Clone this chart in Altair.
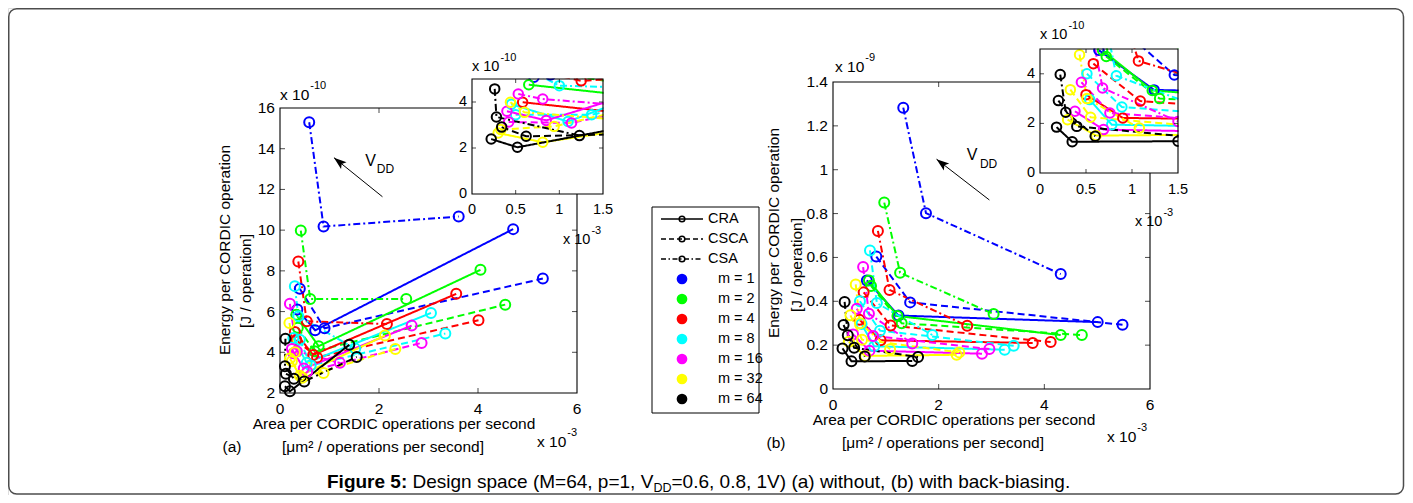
import altair as alt
import pandas as pd

FONT = "Liberation Sans"
ARCHS = ["CRA", "CSCA", "CSA"]
DASHES = [[1, 0], [7, 4], [7, 3, 2, 3]]
LEG_DASHES = [[1, 0], [5, 3], [5, 2.5, 1.5, 2.5]]
M_VALUES = [1, 2, 4, 8, 16, 32, 64]
M_COLORS = ["#0000ff", "#00ff00", "#ff0000", "#00ffff", "#ff00ff", "#ffff00", "#000000"]
LEG_LABELS = ["CRA", "CSCA", "CSA", "m = 1", "m = 2", "m = 4", "m = 8", "m = 16", "m = 32", "m = 64"]

# tick values and labels
A_XTICKS = [0, 2, 4, 6]
A_YTICKS = [2, 4, 6, 8, 10, 12, 14, 16]
AI_XTICKS = [0, 0.5, 1, 1.5]
AI_YTICKS = [0, 2, 4]
B_XTICKS = [0, 2, 4, 6]
B_YTICKS = [0, 0.2, 0.4, 0.6, 0.8, 1.0, 1.2, 1.4]
BI_XTICKS = [0, 0.5, 1, 1.5]
BI_YTICKS = [0, 0.2, 0.4]
BI_YLABELS = ["0", "2", "4"]

# Each list: CRA(VDD 1.0, 0.8, 0.6), CSCA(...), CSA(...)
# ---- panel (a), main plot: area [x 1e-3], energy [x 1e-10]
A_X_M1 = [0.35, 0.71, 4.71, 0.40, 0.90, 5.31, 0.59, 0.88, 3.61]
A_Y_M1 = [6.10, 5.08, 10.05, 7.12, 5.18, 7.62, 15.30, 10.18, 10.67]
A_X_M2 = [0.33, 0.78, 4.05, 0.36, 0.70, 4.55, 0.42, 0.61, 2.55]
A_Y_M2 = [5.85, 4.30, 8.05, 5.20, 4.05, 6.34, 9.98, 6.62, 6.62]
A_X_M4 = [0.30, 0.67, 3.56, 0.33, 0.75, 4.01, 0.37, 0.54, 2.16]
A_Y_M4 = [5.00, 3.87, 6.87, 4.60, 3.75, 5.57, 8.46, 5.52, 5.39]
A_X_M8 = [0.27, 0.54, 3.05, 0.40, 0.62, 3.34, 0.30, 0.37, 1.52]
A_Y_M8 = [4.70, 3.48, 5.93, 4.62, 3.35, 4.92, 7.25, 5.77, 4.18]
A_X_M16 = [0.24, 0.48, 2.66, 0.27, 0.55, 2.86, 0.20, 0.34, 1.21]
A_Y_M16 = [4.16, 3.20, 5.31, 3.95, 3.05, 4.46, 6.38, 4.05, 3.48]
A_X_M32 = [0.20, 0.40, 2.12, 0.24, 0.45, 2.33, 0.19, 0.30, 0.88]
A_Y_M32 = [3.70, 2.85, 4.82, 3.56, 2.75, 4.16, 5.44, 4.00, 2.98]
A_X_M64 = [0.10, 0.20, 1.40, 0.12, 0.49, 1.55, 0.11, 0.10, 0.28]
A_Y_M64 = [2.33, 2.08, 4.37, 2.94, 2.57, 3.77, 4.66, 3.31, 2.70]

# ---- panel (a), inset (as drawn in the zoomed inset)
AI_X_M1 = [0.35, 0.71, 4.71, 0.40, 0.90, 5.31, 0.59, 0.88, 3.61]
AI_Y_M1 = [6.10, 5.08, 10.05, 7.12, 5.18, 7.62, 15.30, 10.18, 10.67]
AI_X_M2 = [0.65, 1.75, 4.05, 0.70, 1.90, 4.55, 0.42, 0.61, 2.55]
AI_Y_M2 = [4.75, 4.30, 8.05, 5.40, 4.70, 6.34, 9.98, 6.62, 6.62]
AI_X_M4 = [0.58, 1.65, 3.56, 0.55, 1.25, 4.01, 0.37, 0.54, 2.16]
AI_Y_M4 = [3.99, 3.55, 6.87, 5.50, 4.92, 5.57, 8.46, 5.52, 5.39]
AI_X_M8 = [0.45, 1.10, 3.05, 0.50, 1.37, 3.34, 0.55, 1.00, 2.10]
AI_Y_M8 = [3.90, 3.15, 5.93, 3.45, 3.45, 4.92, 5.60, 4.71, 4.60]
AI_X_M16 = [0.40, 0.85, 2.66, 0.42, 1.14, 2.86, 0.53, 0.81, 1.90]
AI_Y_M16 = [3.60, 3.20, 5.31, 3.13, 3.09, 4.46, 4.35, 4.13, 3.80]
AI_X_M32 = [0.30, 0.81, 2.50, 0.33, 0.94, 2.33, 0.44, 0.60, 1.80]
AI_Y_M32 = [2.65, 2.25, 3.20, 2.80, 2.94, 4.16, 3.99, 3.55, 3.20]
AI_X_M64 = [0.22, 0.52, 1.95, 0.34, 0.62, 2.00, 0.26, 0.28, 1.23]
AI_Y_M64 = [2.39, 2.03, 3.05, 2.91, 2.51, 2.62, 4.57, 3.35, 2.54]

# ---- panel (b): area [x 1e-3], energy [x 1e-9]
B_X_M1 = [0.64, 1.24, 5.01, 0.82, 1.46, 5.48, 1.33, 1.76, 4.31]
B_Y_M1 = [0.495, 0.335, 0.305, 0.604, 0.395, 0.293, 1.283, 0.802, 0.524]
B_X_M2 = [0.68, 1.22, 4.31, 0.72, 1.30, 4.71, 0.97, 1.27, 3.04]
B_Y_M2 = [0.495, 0.333, 0.246, 0.470, 0.300, 0.246, 0.850, 0.530, 0.342]
B_X_M4 = [0.50, 0.90, 3.78, 0.58, 1.09, 4.12, 0.85, 1.07, 2.54]
B_Y_M4 = [0.316, 0.222, 0.210, 0.441, 0.290, 0.214, 0.721, 0.452, 0.288]
B_X_M8 = [0.54, 0.78, 3.25, 0.51, 0.89, 3.42, 0.70, 0.83, 1.88]
B_Y_M8 = [0.296, 0.195, 0.179, 0.400, 0.266, 0.197, 0.632, 0.392, 0.246]
B_X_M16 = [0.38, 0.69, 2.82, 0.45, 0.76, 2.96, 0.57, 0.68, 1.50]
B_Y_M16 = [0.249, 0.175, 0.161, 0.366, 0.242, 0.182, 0.556, 0.343, 0.208]
B_X_M32 = [0.30, 0.61, 2.34, 0.33, 0.55, 2.39, 0.43, 0.51, 1.08]
B_Y_M32 = [0.215, 0.151, 0.156, 0.336, 0.225, 0.167, 0.477, 0.300, 0.181]
B_X_M64 = [0.18, 0.35, 1.50, 0.20, 0.40, 1.61, 0.22, 0.28, 0.60]
B_Y_M64 = [0.185, 0.126, 0.128, 0.292, 0.188, 0.146, 0.397, 0.245, 0.148]

ARROW_A_X = [2.07, 1.09]
ARROW_A_Y = [11.64, 13.56]
ARROW_B_X = [2.96, 1.96]
ARROW_B_Y = [0.862, 1.048]

W, H = 1397, 487
ONE = pd.DataFrame({"z": [0]})
ARROW_PATH = "M0,0L0.45,1.3L0,1.02L-0.45,1.3Z"


def series_df(xs_lists, ys_lists):
    rows = []
    for mi, (xs, ys) in enumerate(zip(xs_lists, ys_lists)):
        for ai, arch in enumerate(ARCHS):
            for vi in range(3):
                k = ai * 3 + vi
                rows.append({"m": M_VALUES[mi], "color": M_COLORS[mi], "arch": arch,
                             "series": f"{M_VALUES[mi]}_{arch}", "k": vi,
                             "x": xs[k], "y": ys[k]})
    return pd.DataFrame(rows)


def lin(domain, rng):
    return alt.Scale(domain=domain, range=rng, nice=False, zero=False)


def box(xd, yd, xsc, ysc, white=False):
    d = pd.DataFrame({"x0": [xd[0]], "x1": [xd[1]], "y0": [yd[0]], "y1": [yd[1]]})
    if white:
        mk = alt.Chart(d).mark_rect(color="white")
    else:
        mk = alt.Chart(d).mark_rect(fillOpacity=0, stroke="black", strokeWidth=1.1)
    return mk.encode(x=alt.X("x0:Q", scale=xsc, axis=None), x2="x1:Q",
                     y=alt.Y("y0:Q", scale=ysc, axis=None), y2="y1:Q")


def tick_labels(xt, yt, xsc, ysc, xpix, ypix, size, ylabels=None, xdy=16):
    xl = pd.DataFrame({"v": xt, "t": [f"{v:g}" for v in xt]})
    yl = pd.DataFrame({"v": yt, "t": ylabels if ylabels else [f"{v:g}" for v in yt]})
    bottom = alt.Chart(xl).mark_text(font=FONT, fontSize=size, align="center", baseline="middle",
                                     color="black").encode(
        x=alt.X("v:Q", scale=xsc, axis=None), y=alt.value(ypix + xdy), text="t:N")
    left = alt.Chart(yl).mark_text(font=FONT, fontSize=size, align="right", baseline="middle",
                                   color="black").encode(
        x=alt.value(xpix - 5), y=alt.Y("v:Q", scale=ysc, axis=None), text="t:N")
    return [bottom, left]


def tick_layers(xt, yt, xd, yd, xsc, ysc, L=5):
    n, m = len(xt), len(yt)
    specs = [
        (pd.DataFrame({"x": xt, "y": [yd[0]] * n}), "vertical", 0, -L / 2),
        (pd.DataFrame({"x": xt, "y": [yd[1]] * n}), "vertical", 0, L / 2),
        (pd.DataFrame({"x": [xd[0]] * m, "y": yt}), "horizontal", L / 2, 0),
        (pd.DataFrame({"x": [xd[1]] * m, "y": yt}), "horizontal", -L / 2, 0),
    ]
    out = []
    for d, ori, xo, yo in specs:
        out.append(alt.Chart(d).mark_tick(orient=ori, size=L, thickness=1, color="black",
                                          xOffset=xo, yOffset=yo).encode(
            x=alt.X("x:Q", scale=xsc, axis=None), y=alt.Y("y:Q", scale=ysc, axis=None)))
    return out


def data_layers(df, xsc, ysc, psize=100):
    dash = alt.StrokeDash("arch:N", scale=alt.Scale(domain=ARCHS, range=DASHES), legend=None)
    lines = alt.Chart(df).mark_line(strokeWidth=2).encode(
        x=alt.X("x:Q", scale=xsc, axis=None), y=alt.Y("y:Q", scale=ysc, axis=None),
        color=alt.Color("color:N", scale=None), strokeDash=dash,
        detail="series:N", order=alt.Order("k:Q"))
    pts = alt.Chart(df).mark_point(filled=False, size=psize, strokeWidth=2, opacity=1).encode(
        x=alt.X("x:Q", scale=xsc, axis=None), y=alt.Y("y:Q", scale=ysc, axis=None),
        color=alt.Color("color:N", scale=None))
    return [lines, pts]


def arrow_layers(ax, ay, xsc, ysc, angle, vpos, ddpos):
    d = pd.DataFrame({"x0": [ax[0]], "y0": [ay[0]], "x1": [ax[1]], "y1": [ay[1]]})
    rule = alt.Chart(d).mark_rule(color="black", strokeWidth=1).encode(
        x=alt.X("x0:Q", scale=xsc, axis=None), y=alt.Y("y0:Q", scale=ysc, axis=None),
        x2="x1:Q", y2="y1:Q")
    head = alt.Chart(d).mark_point(shape=ARROW_PATH, filled=True, color="black", size=380,
                                   angle=angle, opacity=1).encode(
        x=alt.X("x1:Q", scale=xsc, axis=None), y=alt.Y("y1:Q", scale=ysc, axis=None))
    tv = pd.DataFrame({"x": [vpos[0]], "y": [vpos[1]]})
    td = pd.DataFrame({"x": [ddpos[0]], "y": [ddpos[1]]})
    v = alt.Chart(tv).mark_text(text="V", font=FONT, fontSize=16, align="left", baseline="middle",
                                color="black").encode(
        x=alt.X("x:Q", scale=xsc, axis=None), y=alt.Y("y:Q", scale=ysc, axis=None))
    dd = alt.Chart(td).mark_text(text="DD", font=FONT, fontSize=12, align="left", baseline="middle",
                                 color="black").encode(
        x=alt.X("x:Q", scale=xsc, axis=None), y=alt.Y("y:Q", scale=ysc, axis=None))
    return [rule, head, v, dd]


def txt(text, x, y, size=15.5, angle=0, align="center", baseline="middle", weight="normal"):
    return alt.Chart(ONE).mark_text(text=text, font=FONT, fontSize=size, angle=angle, align=align,
                                    baseline=baseline, fontWeight=weight, color="black").encode(
        x=alt.value(x), y=alt.value(y))


def rect(x1, x2, y1, y2, **kw):
    return alt.Chart(ONE).mark_rect(**kw).encode(
        x=alt.value(x1), x2=alt.value(x2), y=alt.value(y1), y2=alt.value(y2))


def sup_label(x, y, base, exp, bsize=15.5, esize=11):
    return [txt(base, x, y, size=bsize, align="left"),
            txt(exp, x + 1.89 * bsize + 1, y - 9, size=esize, align="left")]


# ------------------------------------------------------------------ panel (a)
df_a = series_df([A_X_M1, A_X_M2, A_X_M4, A_X_M8, A_X_M16, A_X_M32, A_X_M64],
                 [A_Y_M1, A_Y_M2, A_Y_M4, A_Y_M8, A_Y_M16, A_Y_M32, A_Y_M64])
df_ai = series_df([AI_X_M1, AI_X_M2, AI_X_M4, AI_X_M8, AI_X_M16, AI_X_M32, AI_X_M64],
                  [AI_Y_M1, AI_Y_M2, AI_Y_M4, AI_Y_M8, AI_Y_M16, AI_Y_M32, AI_Y_M64])
ax_a = lin([0, 6], [272, 569])
ay_a = lin([2, 16], [385, 100])
ax_ai = lin([0, 1.5], [464, 595])
ay_ai = lin([0, 5], [186, 71])

main_a = alt.layer(
    box([0, 6], [2, 16], ax_a, ay_a),
    *tick_layers([2, 4], [4, 6, 8, 10, 12, 14], [0, 6], [2, 16], ax_a, ay_a),
    *tick_labels(A_XTICKS, A_YTICKS, ax_a, ay_a, 272, 385, 15.5),
    *data_layers(df_a, ax_a, ay_a),
    *arrow_layers(ARROW_A_X, ARROW_A_Y, ax_a, ay_a, 309, (1.72, 13.39), (1.955, 12.98)),
)
inset_a_data = alt.layer(
    box([0, 1.5], [0, 5], ax_ai, ay_ai, white=True),
    *data_layers(df_ai, ax_ai, ay_ai, psize=90),
)
masks_a = alt.layer(rect(595.6, W, 0, 186, color="white"), rect(460, 596, 0, 70.4, color="white"))
inset_a_frame = alt.layer(
    box([0, 1.5], [0, 5], ax_ai, ay_ai),
    *tick_layers([0.5, 1], [2, 4], [0, 1.5], [0, 5], ax_ai, ay_ai, L=4),
    *tick_labels(AI_XTICKS, AI_YTICKS, ax_ai, ay_ai, 464, 186, 14.5),
)
texts_a = alt.layer(
    txt("Energy per CORDIC operation", 217, 242, angle=270),
    txt("[J / operation]", 238, 273, angle=270),
    txt("Area per CORDIC operations per second", 386, 416),
    txt("[\u03bcm\u00b2 / operations per second]", 375, 439),
    txt("(a)", 224, 439),
    *sup_label(272, 87, "x 10", "-10"),
    *sup_label(529, 434, "x 10", "-3"),
    *sup_label(464, 59, "x 10", "-10", bsize=14.5),
    *sup_label(555, 232, "x 10", "-3", bsize=14.5),
)

# ------------------------------------------------------------------ panel (b)
df_b = series_df([B_X_M1, B_X_M2, B_X_M4, B_X_M8, B_X_M16, B_X_M32, B_X_M64],
                 [B_Y_M1, B_Y_M2, B_Y_M4, B_Y_M8, B_Y_M16, B_Y_M32, B_Y_M64])
ax_b = lin([0, 6], [825, 1142])
ay_b = lin([0, 1.4], [381, 74])
ax_bi = lin([0, 1.5], [1032, 1170])
ay_bi = lin([0, 0.5], [165, 41])

main_b = alt.layer(
    box([0, 6], [0, 1.4], ax_b, ay_b),
    *tick_layers([2, 4], [0.2, 0.4, 0.6, 0.8, 1.0, 1.2], [0, 6], [0, 1.4], ax_b, ay_b),
    *tick_labels(B_XTICKS, B_YTICKS, ax_b, ay_b, 825, 381, 15.5),
    *data_layers(df_b, ax_b, ay_b),
    *arrow_layers(ARROW_B_X, ARROW_B_Y, ax_b, ay_b, 308, (2.53, 1.067), (2.78, 1.026)),
)
inset_b_data = alt.layer(
    box([0, 1.5], [0, 0.5], ax_bi, ay_bi, white=True),
    *data_layers(df_b, ax_bi, ay_bi, psize=90),
)
masks_b = alt.layer(rect(1170.6, W, 0, 165, color="white"), rect(1028, 1171, 0, 40.4, color="white"))
inset_b_frame = alt.layer(
    box([0, 1.5], [0, 0.5], ax_bi, ay_bi),
    *tick_layers([0.5, 1], [0.2, 0.4], [0, 1.5], [0, 0.5], ax_bi, ay_bi, L=4),
    *tick_labels(BI_XTICKS, BI_YTICKS, ax_bi, ay_bi, 1032, 165, 14.5, ylabels=BI_YLABELS, xdy=17),
)
texts_b = alt.layer(
    txt("Energy per CORDIC operation", 766, 225, angle=270),
    txt("[J / operation]", 789, 257, angle=270),
    txt("Area per CORDIC operations per second", 946, 412),
    txt("[\u03bcm\u00b2 / operations per second]", 935, 435),
    txt("(b)", 768, 435),
    *sup_label(827, 59, "x 10", "-9"),
    *sup_label(1099, 429, "x 10", "-3"),
    *sup_label(1032, 27, "x 10", "-10", bsize=14.5),
    *sup_label(1127, 214, "x 10", "-3", bsize=14.5),
)

# ------------------------------------------------------------------ legend
leg_df = pd.DataFrame({"i": list(range(10)), "label": LEG_LABELS,
                       "arch": ARCHS + [""] * 7, "color": ["#000000"] * 3 + M_COLORS})
ly = lin([0, 9], [211, 391])
LY = alt.Y("i:Q", scale=ly, axis=None)
leg_top = leg_df.iloc[:3]
leg_bot = leg_df.iloc[3:]
legend = alt.layer(
    rect(644, 751, 199, 405, fill="white", stroke="black", strokeWidth=1),
    alt.Chart(leg_top).mark_rule(strokeWidth=1.5, color="black").encode(
        x=alt.value(653), x2=alt.value(695), y=LY,
        strokeDash=alt.StrokeDash("arch:N", scale=alt.Scale(domain=ARCHS, range=LEG_DASHES),
                                  legend=None)),
    alt.Chart(leg_top).mark_point(filled=False, size=32, strokeWidth=1.5, color="black",
                                  opacity=1).encode(x=alt.value(674), y=LY),
    alt.Chart(leg_bot).mark_circle(size=115, opacity=1).encode(
        x=alt.value(674), y=LY, color=alt.Color("color:N", scale=None)),
    alt.Chart(leg_top).mark_text(font=FONT, fontSize=14.5, align="left", baseline="middle",
                                 color="black").encode(x=alt.value(700), y=LY, text="label:N"),
    alt.Chart(leg_bot).mark_text(font=FONT, fontSize=14.5, align="left", baseline="middle",
                                 color="black").encode(x=alt.value(710), y=LY, text="label:N"),
)

# ------------------------------------------------------------------ frame + caption
frame = rect(0.75, 1395.5, 0.75, 486, fillOpacity=0, stroke="#4d4d4d", strokeWidth=1.5,
             cornerRadius=8)
caption = alt.layer(
    txt("Figure 5:", 319, 480, size=19, align="left", baseline="alphabetic", weight="bold"),
    txt("Design space (M=64, p=1, V", 404.5, 480, size=19, align="left", baseline="alphabetic"),
    txt("DD", 645.5, 484, size=12.5, align="left", baseline="alphabetic"),
    txt("=0.6, 0.8, 1V) (a) without, (b) with back-biasing.", 663.5, 480, size=19,
        align="left", baseline="alphabetic"),
)

chart = alt.layer(
    main_a, inset_a_data, masks_a, inset_a_frame, texts_a,
    main_b, inset_b_data, masks_b, inset_b_frame, texts_b,
    legend, frame, caption,
).resolve_scale(
    x="independent", y="independent", strokeDash="independent"
).properties(
    width=W, height=H, autosize=alt.AutoSizeParams(type="none"), padding=0
).configure_view(stroke=None).configure(background="white")

chart.save("out.html", embed_options={"renderer": "svg", "actions": False})
